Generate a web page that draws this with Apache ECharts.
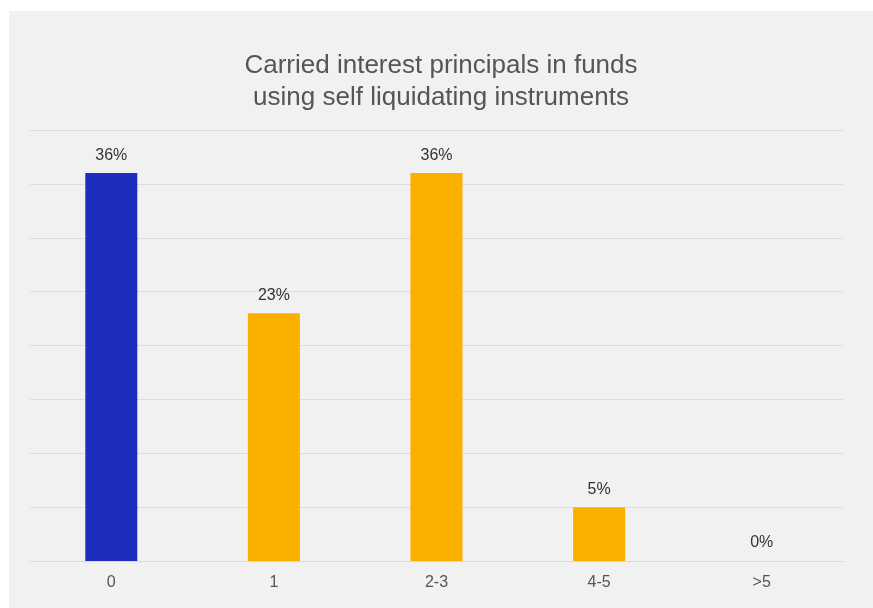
<!DOCTYPE html>
<html>
<head>
<meta charset="utf-8">
<script src="https://cdn.jsdelivr.net/npm/echarts@6/dist/echarts.min.js"></script>
<style>
  html, body { margin: 0; padding: 0; background: #ffffff; }
  #chart { position: absolute; left: 9px; top: 11px; width: 864px; height: 597px; }
</style>
</head>
<body>
<div id="chart"></div>
<script>
// Share of carried interest principals by number of funds
const categories = ['0', '1', '2-3', '4-5', '>5'];
const shares = [36, 23, 36, 5, 0];
const barColors = ['#1f2dbf', '#fbb000', '#fbb000', '#fbb000', '#fbb000'];

const chart = echarts.init(document.getElementById('chart'));
chart.setOption({
  backgroundColor: '#f1f1f1',
  animation: false,
  title: {
    text: 'Carried interest principals in funds\nusing self liquidating instruments',
    left: 'center',
    top: 34,
    textStyle: {
      fontFamily: 'Liberation Sans, Arial, sans-serif',
      fontSize: 26,
      fontWeight: 'normal',
      color: '#555555',
      lineHeight: 32
    }
  },
  grid: { left: 21, right: 30, top: 119, bottom: 47 },
  xAxis: {
    type: 'category',
    data: categories,
    axisLine: { lineStyle: { color: '#d9d9d9', width: 1 } },
    axisTick: { show: false },
    axisLabel: {
      margin: 14,
      fontFamily: 'Liberation Sans, Arial, sans-serif',
      fontSize: 16,
      color: '#555555'
    }
  },
  yAxis: {
    type: 'value',
    min: 0,
    max: 40,
    interval: 5,
    axisLabel: { show: false },
    axisLine: { show: false },
    axisTick: { show: false },
    splitLine: { lineStyle: { color: '#dcdcdc', width: 1 } }
  },
  series: [{
    type: 'bar',
    barWidth: 52,
    data: shares.map((v, i) => ({ value: v, itemStyle: { color: barColors[i] } })),
    label: {
      show: true,
      position: 'top',
      distance: 10,
      formatter: p => p.value + '%',
      fontFamily: 'Liberation Sans, Arial, sans-serif',
      fontSize: 16,
      color: '#333333'
    }
  }]
});
</script>
</body>
</html>
